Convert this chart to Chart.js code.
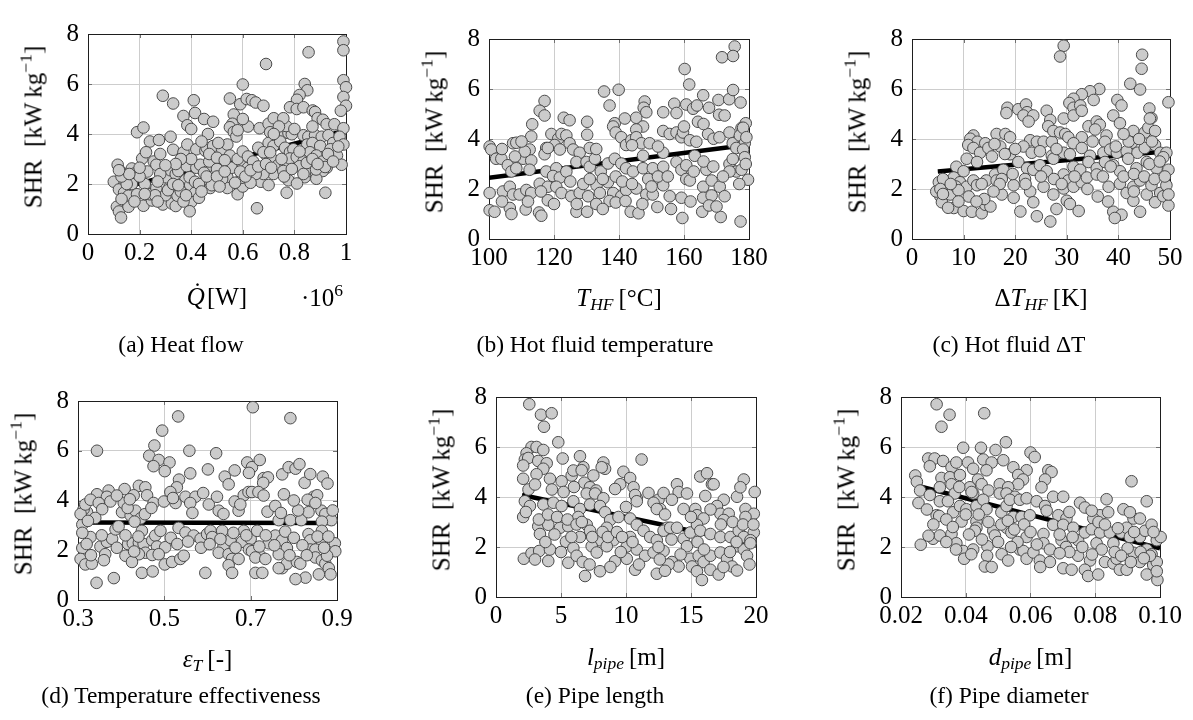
<!DOCTYPE html>
<html>
<head>
<meta charset="utf-8">
<script src="https://cdn.jsdelivr.net/npm/chart.js@4.4.0/dist/chart.umd.min.js"></script>
<style>
  body { margin: 0; background: #fff; width: 1193px; height: 720px; position: relative; overflow: hidden;
         font-family: "Liberation Serif", "Times New Roman", serif; color: #000; }
  canvas { position: absolute; }
  .lbl, .cap, .ylab { position: absolute; white-space: nowrap; line-height: 1; }
  .lbl { font-size: 25px; transform: translate(-50%, -50%); }
  .cap { font-size: 23.5px; transform: translate(-50%, -50%); }
  .ylab { font-size: 25px; transform: translate(-50%, -50%) rotate(-90deg); }
  sub { font-size: 70%; vertical-align: -0.28em; line-height: 0; }
  sup { font-size: 70%; vertical-align: 0.55em; line-height: 0; }
</style>
</head>
<body>
<script>
// ---- data ----
const shrTicks = [0, 2, 4, 6, 8];
const shrTickLabels = ['0', '2', '4', '6', '8'];

// (a) heat flow, x in 1e6 W
const heatFlowTicks = [0, 0.2, 0.4, 0.6, 0.8, 1];
const heatFlowTickLabels = ['0', '0.2', '0.4', '0.6', '0.8', '1'];
const heatFlowPts = [[0.99,7.7],[0.99,7.35],[0.855,7.27],[0.69,6.8],[0.6,5.98],[0.99,6.15],[1.0,5.87],[0.99,5.48],[1.0,5.13],[0.98,4.93],
  [0.84,6.0],[0.85,5.75],[0.82,5.56],[0.81,5.37],[0.29,5.53],[0.33,5.22],[0.41,5.35],[0.415,4.84],[0.45,4.6],[0.485,4.49],
  [0.37,4.72],[0.55,5.42],[0.59,5.19],[0.615,5.4],[0.635,5.35],[0.65,5.26],[0.68,5.13],[0.565,4.78],[0.56,4.41],[0.55,4.27],
  [0.565,4.08],[0.575,3.9],[0.385,4.35],[0.4,4.2],[0.19,4.07],[0.215,4.26],[0.24,3.7],[0.275,3.76],[0.32,3.89],[0.465,4.0],
  [0.33,3.37],[0.37,3.27],[0.385,3.58],[0.42,3.39],[0.455,3.33],[0.46,3.45],[0.485,3.52],[0.52,3.39],[0.54,3.58],[0.505,3.64],
  [0.55,3.14],[0.21,3.02],[0.225,3.27],[0.255,2.9],[0.265,2.77],[0.115,2.77],[0.125,2.52],[0.14,2.31],[0.17,2.62],[0.18,2.42],
  [0.1,2.09],[0.14,1.96],[0.17,2.0],[0.12,1.78],[0.14,1.65],[0.157,1.53],[0.112,1.09],[0.12,0.9],[0.128,0.66],[0.157,1.09],
  [0.19,1.59],[0.215,1.13],[0.248,1.34],[0.24,1.59],[0.265,1.84],[0.29,1.18],[0.325,1.22],[0.34,1.12],[0.316,1.88],[0.347,1.53],
  [0.377,2.15],[0.396,1.96],[0.415,1.65],[0.4,1.28],[0.394,0.91],[0.305,2.27],[0.32,2.55],[0.34,2.4],[0.35,2.52],[0.383,2.71],
  [0.394,2.27],[0.415,2.09],[0.42,2.65],[0.435,2.77],[0.455,2.09],[0.474,1.84],[0.465,2.52],[0.47,2.9],[0.49,2.34],[0.54,2.27],
  [0.54,1.84],[0.58,1.59],[0.557,2.65],[0.6,2.71],[0.62,2.65],[0.6,1.9],[0.596,2.25],[0.66,3.45],[0.665,4.23],[0.7,4.41],
  [0.72,4.63],[0.706,4.07],[0.732,3.95],[0.757,4.01],[0.777,4.04],[0.79,3.99],[0.768,4.32],[0.757,4.63],[0.7,3.64],[0.719,3.52],
  [0.745,3.7],[0.764,3.45],[0.783,3.27],[0.796,3.39],[0.693,3.14],[0.712,3.02],[0.738,2.77],[0.764,2.83],[0.783,3.02],[0.809,3.08],
  [0.693,2.52],[0.719,2.4],[0.757,2.52],[0.777,2.15],[0.77,1.65],[0.67,2.09],[0.7,1.96],[0.655,1.03],[0.68,2.4],[0.783,5.07],
  [0.809,5.0],[0.835,5.07],[0.871,4.94],[0.88,4.88],[0.89,4.63],[0.91,4.57],[0.925,4.39],[0.835,3.95],[0.854,3.89],[0.88,3.95],
  [0.906,3.89],[0.932,3.95],[0.85,3.58],[0.87,3.64],[0.9,3.52],[0.955,4.39],[0.99,4.23],[0.95,3.64],[0.975,3.89],[0.99,3.58],
  [0.94,3.39],[0.965,3.14],[0.983,2.77],[0.86,3.27],[0.885,3.14],[0.91,2.9],[0.925,2.65],[0.835,2.9],[0.84,2.27],[0.86,2.52],
  [0.885,2.4],[0.91,2.52],[0.92,1.65],[0.82,2.71],[0.848,2.84],[0.81,2.02],[0.885,2.21],[0.835,2.4],[0.884,2.58],[0.919,2.68],
  [0.68,3.27],[0.706,3.27],[0.47,3.2],[0.5,3.05],[0.53,2.95],[0.5,2.6],[0.52,2.2],[0.45,2.45],[0.58,3.0],[0.6,3.3],
  [0.62,3.1],[0.64,2.9],[0.65,2.4],[0.63,2.05],[0.28,2.4],[0.27,2.1],[0.23,2.5],[0.22,2.0],[0.2,2.3],[0.3,1.55],
  [0.26,1.55],[0.36,1.7],[0.43,1.45],[0.48,1.95],[0.37,1.3],[0.22,1.6],[0.18,1.3],[0.15,2.0],[0.13,2.3],
  [0.13,1.4],[0.27,1.3],[0.31,1.75],[0.33,2.0],[0.35,1.95],[0.38,1.55],[0.43,2.0],[0.44,1.7],[0.46,2.3],[0.5,2.3],
  [0.51,1.9],[0.53,2.5],[0.57,2.05],[0.59,2.5],[0.61,2.3],[0.63,2.55],[0.66,2.7],[0.69,2.8],[0.71,2.65],[0.75,3.0],
  [0.76,2.3],[0.79,2.6],[0.82,3.3],[0.87,3.0],[0.89,2.8],[0.93,3.2],[0.95,2.9],[0.97,3.5],[0.87,4.3],[0.8,4.2],
  [0.74,4.3],[0.72,4.0],[0.62,4.3],[0.6,4.6],[0.58,4.15],[0.44,3.7],[0.4,3.0],[0.36,3.0],[0.34,2.8],[0.28,3.2],
  [0.3,2.75],[0.2,2.65],[0.16,2.4],[0.12,2.55]];
const heatFlowTrend = [[0.1, 1.76], [1.0, 4.14]];

// (b) hot fluid temperature
const tempTicks = [100, 120, 140, 160, 180];
const tempTickLabels = ['100', '120', '140', '160', '180'];
const tempPts = [[175.6,7.7],[175.1,7.32],[171.7,7.27],[160.2,6.8],[161.6,6.18],[135.4,5.9],[139.9,5.97],[137.1,5.34],[117.1,5.52],[115.6,5.13],
  [117.1,4.94],[113.3,4.59],[123,4.85],[124.8,4.75],[130.2,4.69],[130.2,4.17],[147.9,5.5],[147.6,5.25],[148.4,5.07],[145.3,4.85],
  [153.6,5.07],[157,5.41],[157.7,5.04],[160.7,5.38],[162.8,5.21],[164,5.34],[164.3,4.69],[165.9,5.75],[167.7,5.25],[170.6,5.56],
  [173.9,5.59],[175.1,5.96],[177.4,5.46],[170.8,4.97],[172.5,4.94],[138.7,4.63],[138.2,4.5],[141.8,4.82],[147.4,4.5],[145.3,4.38],
  [179,4.63],[177.7,4.44],[100.2,3.7],[100.7,3.58],[107.4,3.83],[108.4,3.85],[112.5,3.58],[119.2,4.2],[121.3,4.01],[122.3,4.2],
  [123.8,4.14],[124.8,3.83],[120.2,3.76],[117.6,3.64],[117.1,3.39],[118.1,3.64],[121.8,3.58],[125.9,3.58],[127.9,3.45],[131,3.64],
  [139,4.26],[140.7,4.07],[142.2,3.76],[143.8,3.95],[145.3,4.07],[146.9,3.83],[149.4,3.83],[153.6,4.32],[155.6,4.2],[157.7,4.26],
  [159.2,4.07],[159.7,4.26],[161.8,3.95],[163.8,3.89],[167.4,4.2],[169.1,4.01],[170.9,4.07],[174,4.26],[175,3.83],[177.2,4.14],
  [178.2,4.45],[178.7,3.83],[179.2,4.07],[176.1,3.64],[178.2,3.58],[178.7,3.27],[102.2,3.21],[103.8,3.21],[105.8,2.95],[106.9,2.7],
  [108.4,2.83],[110.5,3.21],[113,3.14],[112.5,2.77],[117.6,2.7],[120.7,2.83],[119.7,2.52],[121.8,2.46],[123.8,2.7],[126.9,3.08],
  [130,3.08],[131,2.89],[132.6,3.21],[134.4,2.7],[136.6,3.02],[138.7,3.21],[140.7,3.02],[142.2,2.83],[144.3,2.7],[147.4,3.33],
  [147.4,2.83],[150.4,2.83],[153.6,2.89],[153.6,3.45],[157.7,3.08],[159.2,2.77],[160.7,2.95],[160.7,2.4],[161.8,2.34],[163.3,3.33],
  [166.9,2.77],[174,3.0],[176.1,2.7],[177.7,2.77],[179.7,2.37],[174,2.7],[100.2,1.84],[104.3,1.9],[106.4,2.09],[107.4,1.78],
  [109.4,1.78],[111.5,1.96],[113,1.84],[115.6,2.21],[118.1,2.09],[120.7,2.09],[122.3,1.84],[125.3,1.71],[127.9,1.84],[130.5,1.71],
  [133.1,2.15],[134.1,1.84],[136.6,2.27],[138.2,1.84],[140.7,1.71],[142.2,1.96],[145.3,2.02],[148.4,1.78],[150.4,1.78],[153.6,2.15],
  [155.6,1.71],[159.2,1.65],[165.9,2.09],[168.5,2.34],[171,2.09],[172.5,1.71],[165.9,1.65],[168.5,1.74],[100.2,1.15],[101.7,1.09],
  [106.4,1.24],[106.9,1.0],[111.3,1.18],[115.4,1.06],[116.1,0.93],[118.1,1.55],[120,1.4],[126.9,1.09],[130.2,1.09],[133,1.4],
  [137.1,1.52],[139,1.46],[142,1.52],[143.6,1.09],[146,1.03],[147.2,1.4],[151.8,1.28],[159.5,0.84],[165.6,1.09],[167.7,1.34],
  [171.3,0.88],[177.4,0.7],
  [104,3.6],[111,3.5],[125,2.3],[129,2.2],[131,2.4],[133,3.6],[135,2.4],[139,2.5],[141,2.3],[144,2.2],
  [149,2.4],[152,2.5],[155,2.5],[163,2.7],[166,3.1],[169,2.9],[172,2.5],[175,3.2],[177,2.2],[179,3.0],
  [170,1.3],[162,1.5],[156,1.2],[150,2.1],[135,1.2],[127,1.4],[112,1.5],[104,1.5],[108,3.3],[116,1.9],
  [144,3.75],[152,3.7],[160,4.5],[166,4.6],[113,4.1],[110,3.9]];
const tempTrend = [[100, 2.45], [175, 3.69]];

// (c) hot fluid delta T
const deltaTicks = [0, 10, 20, 30, 40, 50];
const deltaTickLabels = ['0', '10', '20', '30', '40', '50'];
const deltaPts = [[29.4,7.73],[28.7,7.3],[44.6,7.37],[44.5,6.81],[42.3,6.21],[44.2,5.98],[49.7,5.47],[36.3,6.0],[34.5,5.91],[32.9,5.79],
  [31.3,5.61],[30.5,5.44],[31.3,5.25],[32.6,5.34],[35.2,5.56],[39.8,5.56],[40.6,5.34],[46,5.22],[46.4,4.84],[39.0,4.94],
  [40.3,4.63],[18.5,5.25],[20.6,5.19],[22.1,5.38],[22.3,5.07],[21.6,4.94],[23.5,4.94],[22.6,4.7],[18.3,5.04],[26.1,5.13],
  [26.8,4.76],[26.4,4.51],[29.4,4.82],[31.3,4.94],[32.9,5.13],[34.2,4.51],[35.8,4.7],[36.4,4.57],[35.5,4.38],[37.7,4.14],
  [37.4,3.89],[42.9,4.32],[45.1,4.26],[45.8,4.45],[46.1,4.82],[47.1,4.32],[42.6,3.85],[11.9,4.14],[11.3,4.01],[12.7,3.89],
  [14.2,3.83],[16.4,4.2],[18.1,4.2],[19,4.07],[22.9,3.95],[24.2,3.89],[25.5,3.89],[27.1,3.89],[27.4,4.32],[28.7,4.26],
  [29.7,4.2],[30.3,4.07],[32.9,4.07],[31.3,3.83],[10.9,3.76],[11.9,3.64],[13.2,3.45],[14.8,3.64],[17.1,3.7],[19,3.39],
  [21.6,3.7],[23.2,3.45],[24.8,3.51],[27.1,3.33],[29.4,3.45],[30.6,3.39],[32.9,3.64],[34.5,3.33],[37.1,3.45],[38.4,3.58],
  [39.7,3.45],[41.6,3.51],[43.7,3.45],[45.1,3.64],[47.1,3.76],[48.1,3.45],[49.3,3.45],[48.7,3.27],[8.6,2.89],[10,2.71],
  [10.6,3.21],[12.6,3.08],[16.1,2.58],[17.7,2.77],[20.6,3.08],[22.3,2.83],[23.5,2.77],[24.8,2.95],[26.1,2.71],[27.4,3.21],
  [29.4,2.58],[31.3,2.89],[32.6,2.77],[34.2,3.08],[35.8,2.83],[37.4,3.08],[39,2.95],[40.3,2.71],[41.9,3.21],[43.5,2.83],
  [45.5,3.08],[47.4,2.83],[49.7,2.77],[5.2,2.27],[6.4,2.09],[8.1,2.46],[9.3,2.27],[10.6,2.09],[11.9,2.34],[12.6,2.15],
  [14.4,2.34],[16.4,2.34],[17.4,2.4],[19.7,2.15],[21.9,2.4],[22.9,1.9],[25.5,2.09],[27.4,1.78],[29.4,2.02],[30.3,2.34],
  [31.3,2.09],[32.9,2.27],[33.9,2.46],[35.8,2.58],[38.1,2.09],[40.3,2.21],[41.6,1.84],[42.9,2.09],[44.2,2.34],[45.5,1.78],
  [46.4,2.15],[48.1,1.84],[49.3,2.15],[5.5,1.71],[5.8,1.47],[8.1,1.24],[10,1.12],[11.6,1.09],[13.5,1.03],[14.2,1.37],
  [15.2,1.3],[17.4,1.78],[19.7,1.65],[23.5,1.47],[24.2,0.91],[26.8,0.7],[30,1.53],[30.6,1.4],[32.3,1.12],[39,1.09],
  [40.6,0.97],[39.3,0.84],[42.9,1.53],[44.2,1.09],[47.1,1.47],[48.7,1.71],[49.7,1.34],[49.7,1.78],[4.7,1.9],[6.8,1.96],
  [7.4,1.78],[6.0,2.4],[8.5,2.1],[9.0,1.95],[7.0,1.25],
  [5.5,2.0],[6,1.8],[7.5,2.2],[11,1.7],[13.5,2.2],[14,1.6],[15.5,3.3],[16,3.8],[17,2.2],[18,3.4],
  [19.5,2.6],[20,3.6],[22,2.2],[25,2.5],[27.5,2.4],[28,3.6],[29,2.2],[31.5,2.5],[34,2.0],[35,3.9],
  [37,2.5],[38.5,2.9],[39.5,3.7],[41,2.5],[42,3.9],[43,2.6],[45,2.5],[46,3.0],[47,2.4],[48,3.1],
  [49,2.5],[46.5,3.9],[44,4.0],[41,4.2],[36,1.7],[38,1.5],[43,1.9],[28,1.2],[21,1.1],[12.5,1.5],
  [9,1.5],[15.8,1.9]];
const deltaTrend = [[5, 2.7], [49, 3.5]];

// (d) temperature effectiveness
const effTicks = [0.3, 0.5, 0.7, 0.9];
const effTickLabels = ['0.3', '0.5', '0.7', '0.9'];
const effPts = [[0.705,7.75],[0.792,7.31],[0.532,7.38],[0.495,6.81],[0.477,6.21],[0.465,5.8],[0.487,5.63],[0.512,5.53],[0.475,5.38],[0.501,5.18],
  [0.344,6.0],[0.558,6.0],[0.62,5.9],[0.601,5.25],[0.56,5.09],[0.692,5.53],[0.703,5.34],[0.696,5.11],[0.721,5.63],[0.64,4.96],
  [0.649,4.65],[0.663,5.21],[0.73,4.9],[0.74,4.93],[0.729,4.71],[0.773,5.05],[0.788,5.34],[0.804,5.28],[0.813,5.46],[0.825,4.71],
  [0.838,5.06],[0.867,4.96],[0.878,4.68],[0.777,4.25],[0.534,4.84],[0.529,4.53],[0.514,4.34],[0.441,4.59],[0.456,4.53],[0.408,4.46],
  [0.429,4.21],[0.371,4.4],[0.344,4.25],[0.367,4.15],[0.375,3.96],[0.46,4.21],[0.475,3.9],[0.499,3.96],[0.526,3.9],[0.549,4.15],
  [0.572,4.15],[0.56,3.9],[0.603,3.84],[0.622,4.15],[0.626,3.59],[0.637,3.46],[0.663,3.96],[0.672,3.59],[0.684,4.21],[0.695,4.34],
  [0.703,4.34],[0.718,4.34],[0.676,3.84],[0.739,3.55],[0.757,3.78],[0.765,3.21],[0.792,3.21],[0.817,3.21],[0.834,3.53],[0.846,4.15],
  [0.854,4.21],[0.864,3.59],[0.873,3.46],[0.887,3.21],[0.865,3.15],[0.832,4.03],[0.31,3.03],[0.321,3.53],[0.313,3.65],[0.306,3.46],
  [0.317,3.84],[0.329,4.03],[0.348,3.9],[0.356,3.65],[0.34,3.3],[0.323,3.18],[0.329,2.53],[0.31,2.09],[0.306,1.65],[0.317,1.43],
  [0.332,1.46],[0.352,2.15],[0.367,2.34],[0.363,1.84],[0.379,2.46],[0.387,2.84],[0.394,2.96],[0.343,0.69],[0.383,0.88],[0.402,3.53],
  [0.406,3.9],[0.422,3.4],[0.433,3.59],[0.445,3.28],[0.431,3.15],[0.416,2.25],[0.427,2.28],[0.441,2.3],[0.452,2.25],[0.472,2.4],
  [0.479,2.59],[0.491,2.78],[0.483,2.15],[0.502,2.12],[0.456,1.9],[0.441,1.84],[0.472,1.81],[0.487,1.84],[0.41,1.78],[0.425,1.53],
  [0.448,1.09],[0.473,1.15],[0.501,1.43],[0.518,1.53],[0.537,1.65],[0.545,1.78],[0.448,2.78],[0.533,2.9],[0.549,2.71],[0.568,2.59],
  [0.584,2.46],[0.599,2.65],[0.607,2.78],[0.611,2.53],[0.634,2.78],[0.637,2.15],[0.653,2.4],[0.68,2.34],[0.626,1.9],[0.649,1.84],
  [0.657,1.65],[0.649,1.4],[0.657,1.09],[0.672,1.65],[0.595,1.09],[0.684,2.78],[0.7,2.46],[0.715,2.78],[0.696,2.03],[0.703,1.96],
  [0.722,1.78],[0.711,1.71],[0.734,1.65],[0.742,2.28],[0.757,2.59],[0.773,2.4],[0.784,2.09],[0.765,1.84],[0.773,1.28],[0.784,1.46],
  [0.807,1.53],[0.815,1.46],[0.834,2.65],[0.838,2.4],[0.865,2.78],[0.865,2.34],[0.838,2.03],[0.85,2.03],[0.85,1.71],[0.865,1.59],
  [0.873,1.46],[0.881,1.28],[0.885,1.03],[0.858,1.03],[0.827,0.9],[0.804,0.84],[0.895,2.28],[0.896,1.96],[0.877,1.78],[0.711,1.09],
  [0.727,1.09],[0.765,1.28],
  [0.31,2.7],[0.32,2.25],[0.33,1.8],[0.355,2.6],[0.36,1.6],[0.39,2.1],[0.41,2.6],[0.415,3.7],[0.43,1.95],[0.44,2.55],
  [0.455,3.45],[0.47,3.7],[0.515,2.5],[0.53,2.25],[0.555,2.35],[0.565,3.5],[0.585,2.1],[0.605,2.25],[0.63,2.45],[0.66,2.7],
  [0.665,2.1],[0.69,2.6],[0.72,2.15],[0.735,2.6],[0.755,2.2],[0.77,3.5],[0.78,2.75],[0.79,1.8],[0.8,2.5],[0.81,3.6],
  [0.82,2.2],[0.83,1.8],[0.855,2.55],[0.87,2.1],[0.88,2.55],[0.89,3.6],[0.85,3.9],[0.8,4.0],[0.42,4.05],[0.39,4.2],
  [0.52,4.1],[0.59,4.3],[0.73,4.2]];
const effTrend = [[0.305, 3.12], [0.895, 3.1]];

// (e) pipe length
const lengthTicks = [0, 5, 10, 15, 20];
const lengthTickLabels = ['0', '5', '10', '15', '20'];
const lengthPts = [[2.56,7.71],[3.46,7.29],[4.28,7.35],[3.69,6.81],[4.79,6.19],[11.2,5.5],[2.73,6.0],[3.12,6.0],[3.64,5.88],[2.35,5.75],
  [2.22,5.5],[2.48,5.56],[2.09,5.26],[3.25,5.44],[3.9,5.35],[3.64,5.13],[3.12,4.91],[2.09,4.73],[5.13,5.54],[4.15,4.73],
  [5.05,4.63],[5.82,4.86],[5.95,5.06],[6.46,5.63],[6.72,5.19],[6.59,5.07],[7.49,4.86],[8.26,5.38],[8.39,5.13],[8.13,5.19],
  [6.8,4.57],[7.23,4.39],[6.98,4.14],[7.7,4.26],[7.62,4.14],[8.26,3.95],[9.8,5.01],[10.32,4.76],[9.55,4.51],[10.58,4.39],
  [9.16,4.32],[10.83,3.95],[10.7,4.08],[11.73,4.16],[12.5,3.89],[12.89,4.16],[13.92,4.51],[14.05,4.2],[13.53,3.89],[14.69,4.14],
  [12.63,3.52],[15.71,4.82],[16.23,4.95],[16.61,4.51],[16.74,4.51],[16.1,4.04],[17.52,3.89],[18.54,4.01],[19.06,4.7],[18.8,4.39],
  [19.9,4.2],[2.22,3.83],[2.61,3.64],[3.64,3.7],[4.41,3.77],[5.05,3.64],[5.95,3.83],[6.46,3.52],[7.23,3.7],[8,3.64],
  [8.39,3.39],[8.78,3.08],[9.42,3.2],[10.32,3.14],[10.83,3.83],[12.12,3.77],[12.37,3.52],[13.15,2.77],[14.43,3.52],[15.33,3.52],
  [15.46,3.27],[15.97,3.14],[17,3.64],[17.26,3.33],[17.9,3.33],[19.19,3.52],[19.83,3.33],[19.19,3.2],[17.52,3.08],[2.09,3.2],
  [3.25,2.83],[4.02,2.89],[3.38,2.52],[4.92,2.77],[5.56,2.83],[6.33,3.2],[5.38,2.21],[6.98,2.89],[7.23,2.65],[8,2.27],
  [8.52,2.77],[9.03,2.27],[10.06,2.02],[10.32,2.4],[10.83,2.89],[11.35,2.65],[11.86,2.4],[12.37,2.27],[12.89,2.65],[13.4,2.77],
  [13.92,2.77],[14.43,2.33],[14.95,2.58],[15.46,2.89],[15.71,2.65],[16.49,2.52],[17.26,2.4],[18.03,2.4],[18.67,2.65],[19.06,2.4],
  [19.83,2.58],[19.57,2.27],[6.46,2.4],[5.95,1.96],[2.14,1.53],[2.73,1.75],[3.32,1.84],[4.15,1.9],[4.02,1.44],[5.56,1.37],
  [6.2,1.65],[6.67,1.4],[7.36,2.03],[7.75,1.78],[8.52,2.03],[9.16,1.43],[10.06,1.53],[10.83,1.9],[11.47,1.65],[12.12,1.78],
  [12.89,1.84],[13.53,1.4],[14.05,1.22],[14.69,2.03],[14.95,1.53],[15.59,1.65],[15.97,1.4],[16.49,1.65],[17.26,1.78],[17.77,1.53],
  [18.54,2.03],[19.06,1.9],[19.57,2.15],[19.31,1.65],[6.85,0.84],[8,1.03],[10.7,1.09],[12.37,0.93],[13.27,1.3],[15.08,1.22],
  [15.46,1.03],[15.84,0.68],[16.49,1.09],[17.13,0.9],[18.16,1.22],[18.54,1.06],
  [2.3,3.4],[2.5,4.3],[3,4.5],[3.3,3.1],[3.8,2.2],[4,3.3],[4.3,4.3],[4.5,2.5],[4.7,3.2],[5.2,4.2],
  [5.5,3.1],[5.8,2.4],[6,4.4],[6.2,2.9],[6.6,3.0],[7.4,2.4],[8.2,2.6],[8.6,2.4],[9.3,2.6],[9.7,2.4],
  [10,3.6],[10.5,2.2],[12.5,2.0],[13,3.3],[13.5,2.3],[15,3.2],[15.5,2.2],[16.5,3.5],[17.3,2.9],[18.2,3.0],
  [19,2.9],[19.8,2.9],[18,1.8],[16,1.9],[14.2,1.7],[12.6,1.5],[11,1.3],[9.6,1.8],[8.8,1.2],[7.2,1.3],
  [5,1.8],[3,1.5],[19.5,1.3],[17.5,1.2],[13,1.05],[18.5,2.2]];
const lengthTrend = [[2, 4.08], [20, 2.1]];

// (f) pipe diameter
const diamTicks = [0.02, 0.04, 0.06, 0.08, 0.1];
const diamTickLabels = ['0.02', '0.04', '0.06', '0.08', '0.10'];
const diamPts = [[0.031,7.71],[0.035,7.29],[0.0325,6.81],[0.0457,7.35],[0.0392,5.97],[0.0447,5.97],[0.0492,5.88],[0.0524,6.19],[0.06,5.78],[0.0613,5.6],
  [0.0284,5.54],[0.0304,5.54],[0.0289,5.23],[0.033,5.44],[0.0356,5.19],[0.0371,5.38],[0.0407,5.38],[0.0423,5.13],[0.0454,5.5],[0.048,5.38],
  [0.0464,5.07],[0.0516,5.47],[0.0547,5.19],[0.0588,5.07],[0.0562,4.88],[0.0577,4.7],[0.0562,4.51],[0.0655,5.07],[0.0665,5.0],[0.0645,4.7],
  [0.0634,4.39],[0.0912,4.63],[0.0959,3.83],[0.0835,3.91],[0.0244,4.86],[0.0249,4.61],[0.0259,4.26],[0.0254,3.76],[0.0289,4.08],[0.0325,4.76],
  [0.0351,4.79],[0.032,4.39],[0.0356,4.51],[0.0382,4.88],[0.0366,4.14],[0.0413,4.39],[0.0438,4.7],[0.0449,4.51],[0.0423,4.14],[0.047,4.26],
  [0.0505,4.51],[0.0505,4.14],[0.0531,4.39],[0.0526,4.14],[0.0552,4.01],[0.032,3.83],[0.0345,3.83],[0.0361,3.39],[0.0382,3.64],[0.0402,3.51],
  [0.0418,4.2],[0.0433,3.64],[0.0454,3.89],[0.0464,3.51],[0.0433,3.02],[0.051,3.39],[0.0526,3.64],[0.0536,3.89],[0.0547,3.2],[0.0567,3.89],
  [0.0588,3.95],[0.0619,3.83],[0.0645,3.64],[0.067,4.01],[0.0701,4.01],[0.065,3.45],[0.0572,3.2],[0.0598,3.27],[0.0686,3.27],[0.0711,3.14],
  [0.0753,3.77],[0.0768,3.58],[0.0815,3.27],[0.0794,3.14],[0.0789,3.45],[0.084,3.39],[0.031,3.27],[0.0318,3.24],[0.0387,3.02],[0.0433,2.77],
  [0.0428,2.65],[0.0299,2.33],[0.032,2.46],[0.0356,2.52],[0.0261,2.09],[0.0485,2.65],[0.049,2.46],[0.0526,2.77],[0.0541,2.58],[0.0588,2.4],
  [0.064,2.52],[0.064,2.15],[0.067,2.89],[0.0701,2.89],[0.0696,2.27],[0.0732,2.77],[0.0747,2.27],[0.0768,2.58],[0.0789,2.71],[0.0804,2.15],
  [0.0815,2.58],[0.0845,2.58],[0.0856,2.15],[0.0881,2.58],[0.0897,2.77],[0.0907,2.4],[0.0918,3.14],[0.0938,2.4],[0.0954,2.65],[0.0974,2.89],
  [0.099,2.27],[0.1002,2.4],[0.0887,3.51],[0.0907,3.39],[0.0938,3.14],[0.0371,2.15],[0.0392,1.84],[0.0395,1.53],[0.0423,1.9],[0.0417,1.71],
  [0.0467,2.03],[0.0466,1.65],[0.0511,1.71],[0.0531,1.46],[0.0567,1.9],[0.0578,1.84],[0.0588,1.53],[0.0609,1.78],[0.0629,1.46],[0.066,1.4],
  [0.0701,1.15],[0.0727,1.09],[0.0747,1.65],[0.0784,1.46],[0.0768,1.09],[0.0778,0.84],[0.0809,0.9],[0.083,1.4],[0.0856,1.34],[0.0866,1.53],
  [0.0876,1.09],[0.0897,1.09],[0.0918,1.77],[0.0938,1.4],[0.0959,1.9],[0.0974,1.71],[0.0979,1.28],[0.0959,0.9],[0.099,1.4],[0.0992,0.68],
  [0.0969,1.65],[0.099,1.03],[0.0459,1.22],
  [0.028,3.5],[0.03,2.9],[0.034,3.1],[0.036,2.8],[0.038,4.4],[0.04,3.3],[0.041,2.5],[0.044,3.3],[0.045,2.3],[0.047,3.0],
  [0.05,2.2],[0.051,2.9],[0.053,3.05],[0.055,2.7],[0.056,2.2],[0.058,2.9],[0.06,2.6],[0.062,2.1],[0.066,1.9],[0.069,2.5],
  [0.071,2.0],[0.072,3.4],[0.073,2.4],[0.076,2.0],[0.081,3.0],[0.082,1.9],[0.083,2.9],[0.086,1.8],[0.087,2.75],[0.09,1.95],
  [0.092,2.6],[0.094,1.8],[0.098,2.6],[0.095,1.55],[0.091,1.4],[0.088,1.65],[0.079,1.7],[0.072,1.8],[0.069,1.75],[0.063,1.2],
  [0.054,2.0],[0.048,1.2],[0.037,1.9],[0.034,2.2],[0.0285,2.45]];
const diamTrend = [[0.025, 4.45], [0.1, 1.95]];

// ---- layout ----
const FONT = '"Liberation Serif", "Times New Roman", serif';
const PAD_L = 60, PAD_R = 30, PAD_T = 10, PAD_B = 50;

const panels = [
  { pts: heatFlowPts, trend: heatFlowTrend, xt: heatFlowTicks, xl: heatFlowTickLabels, min: 0, max: 1,
    left: 88, top: 20, w: 258, h: 214,
    xTitle: '<i>Q&#775;</i>&#8202;[W]', xTitleY: 296, cap: '(a) Heat flow', capX: 181, capY: 345 },
  { pts: tempPts, trend: tempTrend, xt: tempTicks, xl: tempTickLabels, min: 100, max: 180,
    left: 489, top: 25, w: 260, h: 214,
    xTitle: '<i>T<sub>HF</sub></i>&#8201;[°C]', xTitleY: 297, cap: '(b) Hot fluid temperature', capX: 595, capY: 345 },
  { pts: deltaPts, trend: deltaTrend, xt: deltaTicks, xl: deltaTickLabels, min: 0, max: 50,
    left: 912, top: 25, w: 258, h: 214,
    xTitle: '&Delta;<i>T<sub>HF</sub></i>&#8201;[K]', xTitleY: 297, cap: '(c) Hot fluid &Delta;T', capX: 1009, capY: 345 },
  { pts: effPts, trend: effTrend, xt: effTicks, xl: effTickLabels, min: 0.3, max: 0.9,
    left: 78, top: 387, w: 259, h: 213,
    xTitle: '<i>&epsilon;<sub>T</sub></i>&#8201;[-]', xTitleY: 658, cap: '(d) Temperature effectiveness', capX: 181, capY: 696 },
  { pts: lengthPts, trend: lengthTrend, xt: lengthTicks, xl: lengthTickLabels, min: 0, max: 20,
    left: 496, top: 383, w: 260, h: 214,
    xTitle: '<i>l<sub>pipe</sub></i>&#8201;[m]', xTitleY: 656, cap: '(e) Pipe length', capX: 595, capY: 696 },
  { pts: diamPts, trend: diamTrend, xt: diamTicks, xl: diamTickLabels, min: 0.02, max: 0.1,
    left: 901, top: 383, w: 259, h: 214,
    xTitle: '<i>d<sub>pipe</sub></i>&#8201;[m]', xTitleY: 656, cap: '(f) Pipe diameter', capX: 1009, capY: 696 }
];

// box, inner tick marks
const framePlugin = {
  id: 'frame',
  beforeDatasetsDraw(chart) {
    const { ctx, chartArea: a, scales } = chart;
    ctx.save();
    ctx.strokeStyle = '#707070';
    ctx.lineWidth = 1;
    ctx.beginPath();
    scales.x.ticks.forEach(t => {
      const px = Math.round(scales.x.getPixelForValue(t.value)) + 0.5;
      ctx.moveTo(px, a.bottom); ctx.lineTo(px, a.bottom - 4);
      ctx.moveTo(px, a.top); ctx.lineTo(px, a.top + 4);
    });
    scales.y.ticks.forEach(t => {
      const py = Math.round(scales.y.getPixelForValue(t.value)) + 0.5;
      ctx.moveTo(a.left, py); ctx.lineTo(a.left + 4, py);
      ctx.moveTo(a.right, py); ctx.lineTo(a.right - 4, py);
    });
    ctx.stroke();
    ctx.strokeStyle = '#1e1e1e';
    ctx.strokeRect(Math.round(a.left) + 0.5, Math.round(a.top) + 0.5, Math.round(a.right - a.left), Math.round(a.bottom - a.top));
    ctx.restore();
  }
};

function addText(cls, html, x, y) {
  const d = document.createElement('div');
  d.className = cls;
  d.innerHTML = html;
  d.style.left = x + 'px';
  d.style.top = y + 'px';
  document.body.appendChild(d);
}

panels.forEach(p => {
  const cv = document.createElement('canvas');
  cv.width = PAD_L + p.w + PAD_R;
  cv.height = PAD_T + p.h + PAD_B;
  cv.style.left = (p.left - PAD_L) + 'px';
  cv.style.top = (p.top - PAD_T) + 'px';
  document.body.appendChild(cv);

  new Chart(cv, {
    type: 'scatter',
    data: {
      datasets: [
        {
          data: p.pts.map(q => ({ x: q[0], y: q[1] })),
          pointRadius: 5.8,
          pointHoverRadius: 5.8,
          pointBackgroundColor: '#cbcbcb',
          pointBorderColor: '#4a4a4a',
          pointBorderWidth: 1,
          clip: false
        },
        {
          data: p.trend.map(q => ({ x: q[0], y: q[1] })),
          showLine: true,
          borderColor: '#000',
          borderWidth: 4.5,
          pointRadius: 0,
          fill: false
        }
      ]
    },
    options: {
      responsive: false,
      animation: false,
      events: [],
      layout: { padding: { left: 0, right: PAD_R, top: PAD_T, bottom: 0 } },
      plugins: { legend: { display: false }, tooltip: { enabled: false } },
      scales: {
        x: {
          type: 'linear', min: p.min, max: p.max,
          afterFit: s => { s.height = PAD_B; },
          afterBuildTicks: s => { s.ticks = p.xt.map(v => ({ value: v })); },
          ticks: { callback: (v, i) => p.xl[i], font: { family: FONT, size: 25 }, color: '#000',
                   padding: 4, maxRotation: 0, autoSkip: false },
          grid: { color: '#cdcdcd', lineWidth: 1, drawTicks: false },
          border: { display: false }
        },
        y: {
          type: 'linear', min: 0, max: 8,
          afterFit: s => { s.width = PAD_L; },
          afterBuildTicks: s => { s.ticks = shrTicks.map(v => ({ value: v })); },
          ticks: { callback: (v, i) => shrTickLabels[i], font: { family: FONT, size: 25 }, color: '#000',
                   padding: 9, autoSkip: false },
          grid: { color: '#cdcdcd', lineWidth: 1, drawTicks: false },
          border: { display: false }
        }
      }
    },
    plugins: [framePlugin]
  });

  addText('ylab', 'SHR&nbsp;&nbsp;[kW&#8201;kg<sup>&minus;1</sup>]', p.left - 55, p.top + p.h / 2);
  addText('lbl', p.xTitle, p.left + p.w / 2, p.xTitleY);
  addText('cap', p.cap, p.capX, p.capY);
});

// scale factor note of panel (a)
addText('lbl', '&middot;10<sup>6</sup>', 322, 297);
</script>
</body>
</html>
